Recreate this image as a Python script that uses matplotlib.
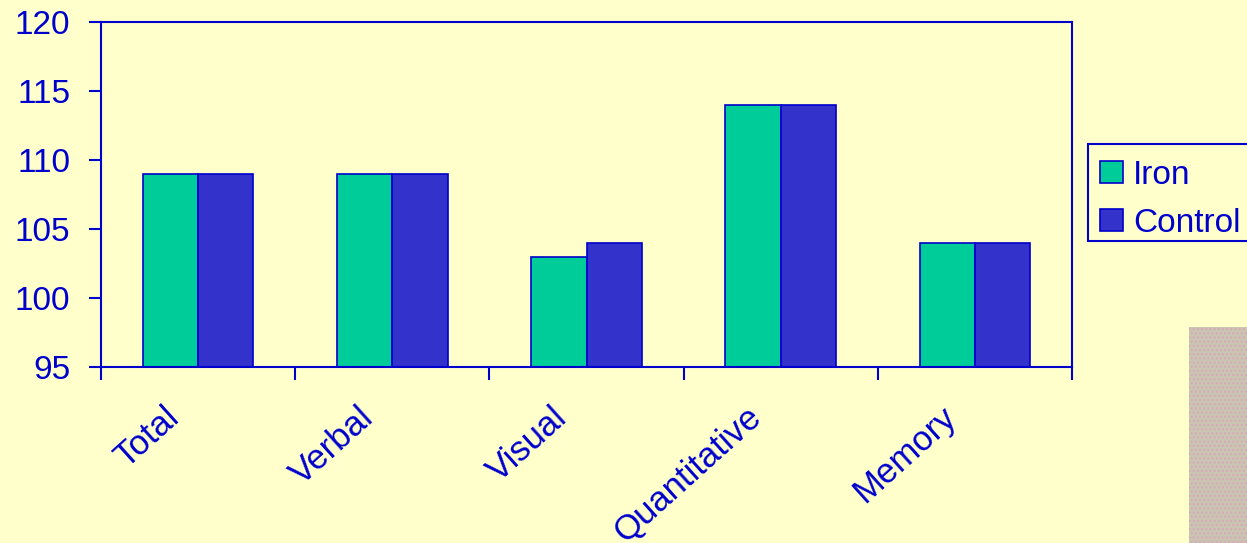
import matplotlib.pyplot as plt
import numpy as np
from matplotlib.patches import Rectangle

plt.rcParams['font.family'] = ['Liberation Sans', 'DejaVu Sans']

categories = ['Total', 'Verbal', 'Visual', 'Quantitative', 'Memory']
iron = [109, 109, 103, 114, 104]
control = [109, 109, 104, 114, 104]

bg = '#FFFFCC'
ink = '#0000CC'
green = '#00CC99'
blue = '#3333CC'

W, H = 1247, 543
fig = plt.figure(figsize=(W/100, H/100), dpi=100, facecolor=bg)
ax = fig.add_axes([101/W, 1 - 367/H, (1072-101)/W, (367-22)/H])
ax.set_facecolor(bg)

x = np.arange(len(categories))
w = 0.285
b1 = ax.bar(x - w/2, iron, w, color=green, edgecolor=ink, linewidth=1.2, label='Iron')
b2 = ax.bar(x + w/2, control, w, color=blue, edgecolor=ink, linewidth=1.2, label='Control')

ax.set_xlim(-0.5, len(categories) - 0.5)
ax.set_ylim(95, 120)
ax.set_yticks(range(95, 121, 5))
ax.set_xticks(np.arange(-0.5, len(categories), 1.0))
ax.set_xticklabels([])
ax.tick_params(axis='x', which='major', direction='out', length=9, width=1.5, color=ink)
ax.tick_params(axis='y', direction='out', length=9, width=1.5, color=ink,
               labelsize=24, labelcolor=ink, pad=13)

# category names, slanted under each group
for xi, name in zip(x, categories):
    ax.annotate(name, (xi, 95), xytext=(-25, -24), textcoords='offset points',
                rotation=42, ha='right', va='top', rotation_mode='anchor',
                fontsize=25, color=ink, annotation_clip=False)

for s in ax.spines.values():
    s.set_color(ink)
    s.set_linewidth(1.5)

# legend box drawn by hand (entries sit low in the frame)
fig.patches.append(Rectangle((1088/W, 1 - 241/H), 200/W, 97/H, transform=fig.transFigure,
                             facecolor=bg, edgecolor=ink, linewidth=1.5, zorder=3))
for bars, yc in [(b1, 172), (b2, 220)]:
    fig.patches.append(Rectangle((1100/W, 1 - (yc + 11)/H), 23/W, 22/H,
                                 transform=fig.transFigure, facecolor=bars.patches[0].get_facecolor(),
                                 edgecolor=ink, linewidth=1.2, zorder=4))
    fig.text(1133/W, 1 - yc/H, bars.get_label(), fontsize=24, color=ink,
             va='center_baseline', ha='left', zorder=5)

# dithered grey tile in the lower right corner
fig.patches.append(Rectangle((1189/W, 0), 60/W, 216/H, transform=fig.transFigure,
                             facecolor='#C9C5B2', edgecolor='#D8A8B8', hatch='....',
                             linewidth=0, zorder=0))

fig.savefig('out.png', dpi=100, facecolor=bg)
